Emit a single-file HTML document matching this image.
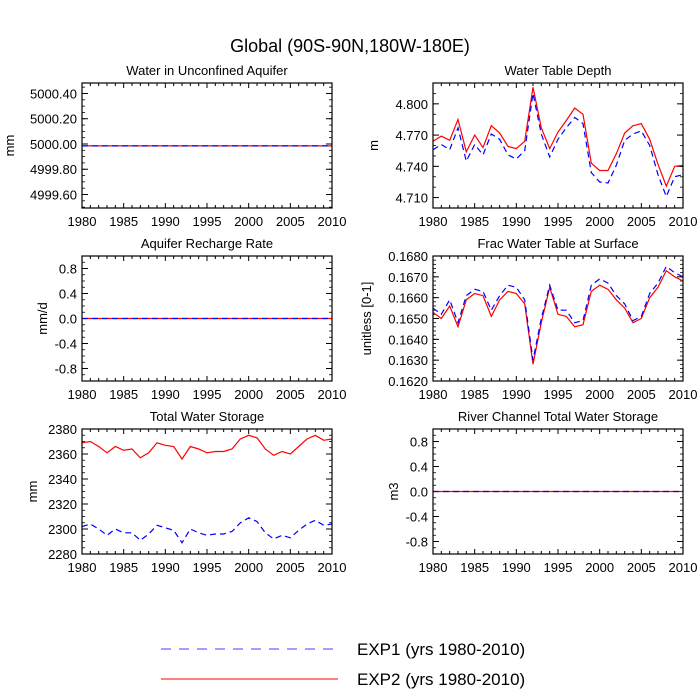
<!DOCTYPE html>
<html><head><meta charset="utf-8"><style>
body{margin:0;background:#fff}
svg{display:block;font-family:"Liberation Sans",sans-serif}
</style></head><body>
<svg id="c" width="700" height="700" xmlns="http://www.w3.org/2000/svg">
<text x="350" y="52" font-size="18" text-anchor="middle">Global (90S-90N,180W-180E)</text>
<line x1="161" y1="649" x2="338" y2="649" stroke="#0000ff" stroke-width="1" stroke-dasharray="10,8" opacity="0.75"/>
<text x="357" y="655" font-size="17">EXP1 (yrs 1980-2010)</text>
<line x1="161" y1="679" x2="338" y2="679" stroke="#ff0000" stroke-width="1"/>
<text x="357" y="685" font-size="17">EXP2 (yrs 1980-2010)</text>
</svg>
<script>
const years=[1980,1981,1982,1983,1984,1985,1986,1987,1988,1989,1990,1991,1992,1993,1994,1995,1996,1997,1998,1999,2000,2001,2002,2003,2004,2005,2006,2007,2008,2009,2010];
const xTicks=[1980,1985,1990,1995,2000,2005,2010];
const flatAq=years.map(()=>4999.985);
const flatZero=years.map(()=>0);
const wtdExp1=[4.756,4.761,4.756,4.777,4.745,4.761,4.751,4.771,4.766,4.751,4.747,4.755,4.810,4.771,4.749,4.766,4.777,4.787,4.781,4.734,4.725,4.724,4.741,4.765,4.771,4.774,4.760,4.732,4.711,4.730,4.732];
const wtdExp2=[4.764,4.769,4.765,4.785,4.754,4.770,4.758,4.779,4.772,4.759,4.757,4.764,4.816,4.777,4.757,4.773,4.784,4.796,4.790,4.743,4.736,4.736,4.752,4.772,4.779,4.781,4.766,4.742,4.721,4.740,4.741];
const fracExp1=[.1655,.1652,.1659,.1648,.1661,.1664,.1663,.1654,.1661,.1666,.1665,.1659,.1630,.1650,.1666,.1654,.1654,.1648,.1649,.1666,.1669,.1667,.1661,.1657,.1649,.1651,.1662,.1667,.1675,.1672,.1670];
const fracExp2=[.1653,.1650,.1656,.1646,.1659,.1662,.1661,.1651,.1659,.1663,.1662,.1657,.1628,.1648,.1665,.1652,.1651,.1646,.1647,.1663,.1666,.1664,.1659,.1655,.1648,.1650,.1660,.1665,.1673,.1670,.1668];
const twsExp1=[2302,2304,2300,2295,2300,2297,2297,2291,2296,2303,2301,2299,2289,2300,2297,2295,2296,2296,2298,2305,2309,2306,2297,2292,2295,2293,2299,2304,2307,2303,2304];
const twsExp2=[2369,2370,2366,2361,2366,2363,2364,2357,2361,2369,2367,2366,2356,2366,2364,2361,2362,2362,2364,2372,2375,2373,2364,2359,2362,2360,2366,2372,2375,2371,2372];
const aqTicks=[4999.6,4999.8,5000.0,5000.2,5000.4];
const wtdTicks=[4.71,4.74,4.77,4.80];
const fracTicks=[.162,.163,.164,.165,.166,.167,.168];
const twsTicks=[2280,2300,2320,2340,2360,2380];
const pmTicks=[-0.8,-0.4,0,0.4,0.8];

const NS='http://www.w3.org/2000/svg';
const svg=document.getElementById('c');
function mk(tag,attrs,parent){const e=document.createElementNS(NS,tag);for(const k in attrs)e.setAttribute(k,attrs[k]);(parent||svg).appendChild(e);return e;}
const panels=[
 {name:'water-in-unconfined-aquifer',title:'Water in Unconfined Aquifer',unit:'mm',x:82,y:83,ymin:4999.493,ymax:5000.483,ticks:aqTicks,dec:2,minor:0.05,e1:flatAq,e2:flatAq},
 {name:'water-table-depth',title:'Water Table Depth',unit:'m',x:433,y:83,ymin:4.700,ymax:4.820,ticks:wtdTicks,dec:3,minor:0.01,e1:wtdExp1,e2:wtdExp2},
 {name:'aquifer-recharge-rate',title:'Aquifer Recharge Rate',unit:'mm/d',x:82,y:256,ymin:-1,ymax:1,ticks:pmTicks,dec:1,minor:0.1,e1:flatZero,e2:flatZero},
 {name:'frac-water-table-at-surface',title:'Frac Water Table at Surface',unit:'unitless [0-1]',x:433,y:256,ymin:.162,ymax:.168,ticks:fracTicks,dec:4,minor:0.0002,e1:fracExp1,e2:fracExp2},
 {name:'total-water-storage',title:'Total Water Storage',unit:'mm',x:82,y:429,ymin:2280,ymax:2380,ticks:twsTicks,dec:0,minor:5,e1:twsExp1,e2:twsExp2},
 {name:'river-channel-total-water-storage',title:'River Channel Total Water Storage',unit:'m3',x:433,y:429,ymin:-1,ymax:1,ticks:pmTicks,dec:1,minor:0.1,e1:flatZero,e2:flatZero}
];
const W=250,H=125;
panels.forEach(p=>{
 const g=mk('g',{});
 
 
 const sx=v=>p.x+(v-1980)/30*W;
 const sy=v=>p.y+H-(v-p.ymin)/(p.ymax-p.ymin)*H;
 const t=mk('text',{x:p.x+W/2,y:p.y-8,'font-size':13,'text-anchor':'middle'},g);t.textContent=p.title;
 
 for(let yr=1980;yr<=2010;yr++){
  const maj=yr%5===0,L=maj?5:3,X=sx(yr);
  mk('line',{x1:X,x2:X,y1:p.y+H,y2:p.y+H-L,stroke:'#000','stroke-width':1},g);
  mk('line',{x1:X,x2:X,y1:p.y,y2:p.y+L,stroke:'#000','stroke-width':1},g);
 }
 xTicks.forEach(v=>{const l=mk('text',{x:sx(v),y:p.y+H+18,'font-size':13,'text-anchor':'middle'},g);l.textContent=v;
  });
 const n0=Math.ceil(p.ymin/p.minor-1e-6),n1=Math.floor(p.ymax/p.minor+1e-6);
 for(let i=n0;i<=n1;i++){const Y=sy(i*p.minor);
  mk('line',{x1:p.x,x2:p.x+3,y1:Y,y2:Y,stroke:'#000','stroke-width':0.8},g);
  mk('line',{x1:p.x+W,x2:p.x+W-3,y1:Y,y2:Y,stroke:'#000','stroke-width':0.8},g);}
 p.ticks.forEach(v=>{const Y=sy(v);
  mk('line',{x1:p.x,x2:p.x+6,y1:Y,y2:Y,stroke:'#000','stroke-width':1},g);
  mk('line',{x1:p.x+W,x2:p.x+W-6,y1:Y,y2:Y,stroke:'#000','stroke-width':1},g);
  const l=mk('text',{x:p.x-5,y:Y+5,'font-size':13,'text-anchor':'end'},g);l.textContent=v.toFixed(p.dec);
  });
 const yt=mk('text',{'font-size':13,'text-anchor':'middle'},g);
 if(p.x>400) yt.setAttribute('transform',`translate(${p.x-(p.dec===4?62:p.dec===1?35:55)},${p.y+H/2}) rotate(-90)`);
 else yt.setAttribute('transform',`translate(${p.x-(p.dec===2?68:p.dec===1?35:45)},${p.y+H/2}) rotate(-90)`);
 yt.textContent=p.unit;
 
 const pts=a=>a.map((v,i)=>sx(years[i]).toFixed(1)+','+sy(v).toFixed(1)).join(' ');
 const l2=mk('polyline',{points:pts(p.e2),fill:'none',stroke:'#ff0000','stroke-width':1.2},g);
 
 const l1=mk('polyline',{points:pts(p.e1),fill:'none',stroke:'#0000ff','stroke-width':1.2,'stroke-dasharray':'6,4'},g);
 
 const fr=mk('rect',{x:p.x,y:p.y,width:W,height:H,fill:'none',stroke:'#000','stroke-width':1.2},g);
 
});
</script>
</body></html>
